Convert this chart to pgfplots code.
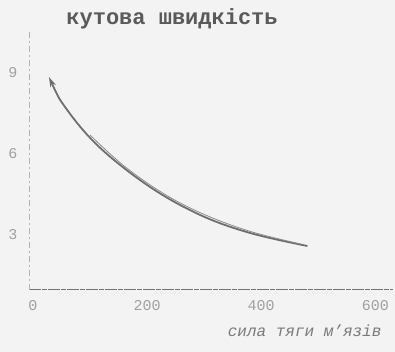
\documentclass[border=0pt]{standalone}
\usepackage{pgfplots}
\pgfplotsset{compat=1.18}
\usetikzlibrary{arrows.meta}
\usepackage{fontspec}
\setmainfont{Liberation Mono}
\definecolor{bg}{HTML}{F3F3F3}
\definecolor{curve}{HTML}{6E6E6E}
\definecolor{ticktxt}{HTML}{A0A0A0}
\definecolor{labtxt}{HTML}{7A7A7A}
\definecolor{titletxt}{HTML}{5A5A5A}
\begin{document}
\begin{tikzpicture}
\useasboundingbox (-29pt,-62pt) rectangle (366pt,290pt);
\fill[bg] (-29pt,-62pt) rectangle (366pt,290pt);
\begin{axis}[
  at={(0pt,0pt)}, anchor=south west,
  scale only axis, width=364pt, height=258pt,
  xmin=-7, xmax=631, ymin=0.96, ymax=10.52,
  axis lines=left,
  axis line style={-},
  x axis line style={draw=black!55, line width=1pt, dash pattern=on 12pt off 1pt on 5pt off 1pt},
  y axis line style={draw=black!30, line width=0.8pt, dash pattern=on 6pt off 3pt on 2pt off 3pt},
  major tick length=0pt,
  xtick={0,200,400,600}, ytick={3,6,9},
  /pgf/number format/assume math mode=true,
  tick label style={font=\fontsize{15}{15}\selectfont, text=ticktxt},
  yticklabel style={xshift=-8pt},
  xticklabel style={yshift=-7pt},
  clip=false,
]
\addplot[curve, line width=1.8pt, smooth, tension=0.6, {Stealth[length=10pt,width=6pt]}-]
  coordinates {(28,8.85) (60,7.63) (118,6.22) (205,4.78) (293,3.74) (381,3.07) (481,2.59)};
\addplot[curve!80, line width=0.8pt, smooth, tension=0.6]
  coordinates {(100,6.70) (160,5.55) (230,4.52) (300,3.76) (381,3.13) (470,2.66)};
\node[font=\bfseries\fontsize{22}{22}\selectfont, text=titletxt, anchor=center]
  at (rel axis cs:0.393,1.05) {кутова швидкість};
\node[font=\itshape\fontsize{16}{16}\selectfont, text=labtxt, anchor=base east]
  at (rel axis cs:0.978,-0.182) {сила тяги м'язів};
\end{axis}
\end{tikzpicture}
\end{document}
